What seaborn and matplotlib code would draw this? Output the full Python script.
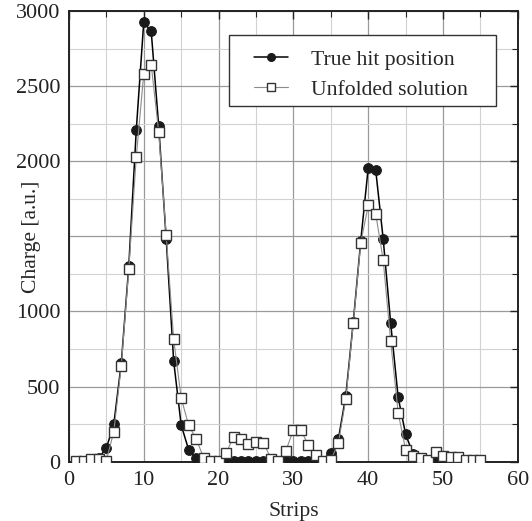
import numpy as np
import pandas as pd
import matplotlib
matplotlib.use("Agg")
import matplotlib.pyplot as plt
import seaborn as sns
from matplotlib.lines import Line2D
from matplotlib.patches import Rectangle

# datos
strips = list(range(1, 56))

true_charge = [5, 6, 10, 25, 90, 250, 655, 1300, 2205, 2925,
               2865, 2235, 1485, 670, 245, 80, 22, 5, 3, 3,
               3, 3, 3, 3, 3, 3, 3, 3, 3, 3,
               3, 3, 3, 3, 60, 148, 437, 929, 1470, 1958,
               1941, 1482, 921, 428, 182, 51, 15, 8, 8, 8,
               8, 8, 8, 8, 8]

unfolded_charge = [5, 8, 18, 20, 8, 200, 640, 1280, 2027, 2582,
                   2642, 2194, 1510, 816, 426, 242, 153, 27, 5, 3,
                   56, 167, 153, 118, 129, 127, 20, 4, 73, 213,
                   209, 111, 42, 5, 12, 122, 415, 921, 1457, 1706,
                   1650, 1342, 801, 326, 78, 38, 22, 10, 65, 40,
                   29, 29, 12, 10, 10]

x_ticks = [0, 10, 20, 30, 40, 50, 60]
y_ticks = [0, 500, 1000, 1500, 2000, 2500, 3000]
y_tick_labels = ["0", "500", "1000", "", "2000", "2500", "3000"]

df = pd.DataFrame({"strip": strips, "true": true_charge, "unfolded": unfolded_charge})

sns.set_theme(style="white")
plt.rcParams["font.family"] = ["Liberation Serif", "DejaVu Serif"]

fs_tick = 16
fs = 15.6

fig = plt.figure(figsize=(5.32, 5.21), dpi=100)
ax = fig.add_axes([0.1295, 0.1138, 0.8440, 0.8650])

# curva verdadera
sns.lineplot(data=df, x="strip", y="true", ax=ax, color="black", linewidth=1.1,
             marker="o", markersize=7, markerfacecolor="#1a1a1a",
             markeredgecolor="#1a1a1a", zorder=3)
# solucion desplegada (encima)
sns.lineplot(data=df, x="strip", y="unfolded", ax=ax, color="#8c8c8c", linewidth=0.8,
             marker="s", markersize=7, markerfacecolor="white",
             markeredgecolor="#333333", markeredgewidth=1.0, zorder=4)

ax.set_xlim(0, 60)
ax.set_ylim(0, 3000)
ax.set_xticks(x_ticks)
ax.set_xticks([5, 15, 25, 35, 45, 55], minor=True)
ax.set_yticks(y_ticks)
ax.set_yticklabels(y_tick_labels)
ax.set_yticks(np.arange(250, 3000, 500), minor=True)

ax.grid(which="major", color="#9a9a9a", linewidth=0.9)
ax.grid(which="minor", color="#d2d2d2", linewidth=0.8)
ax.set_axisbelow(True)

ax.tick_params(which="both", direction="in", top=True, right=True,
               labelsize=fs_tick, colors="#222222")
ax.tick_params(axis="x", pad=7)
ax.tick_params(axis="y", pad=6)
ax.tick_params(which="major", length=6, width=1.0)
ax.tick_params(which="minor", length=4, width=0.8)
for sp in ax.spines.values():
    sp.set_color("#222222")
    sp.set_linewidth(1.4)

ax.set_xlabel("Strips", fontsize=fs, labelpad=8)
ax.set_ylabel("Charge [a.u.]", fontsize=fs)
ax.yaxis.set_label_coords(-0.062, 0.5)  # entre 1000 y 2000 como en el original

# marco de la leyenda a mano (mas margen horizontal que vertical)
ax.add_patch(Rectangle((0.3566, 0.7892), 0.5946, 0.1576, transform=ax.transAxes,
                       facecolor="white", edgecolor="#333333", linewidth=1.0, zorder=5))

handles = [
    Line2D([], [], color="black", linewidth=1.1, marker="o", markersize=5.5,
           markerfacecolor="#1a1a1a", markeredgecolor="#1a1a1a"),
    Line2D([], [], color="#8c8c8c", linewidth=0.8, marker="s", markersize=5.5,
           markerfacecolor="white", markeredgecolor="#333333"),
]
leg = ax.legend(handles, ["True hit position", "Unfolded solution"],
                loc="upper left", bbox_to_anchor=(0.4122, 0.9146), fontsize=fs,
                frameon=False, borderpad=0, handlelength=1.55, labelspacing=0.46,
                handletextpad=1.1, borderaxespad=0)
leg.set_zorder(6)

fig.savefig("out.png", dpi=100)
